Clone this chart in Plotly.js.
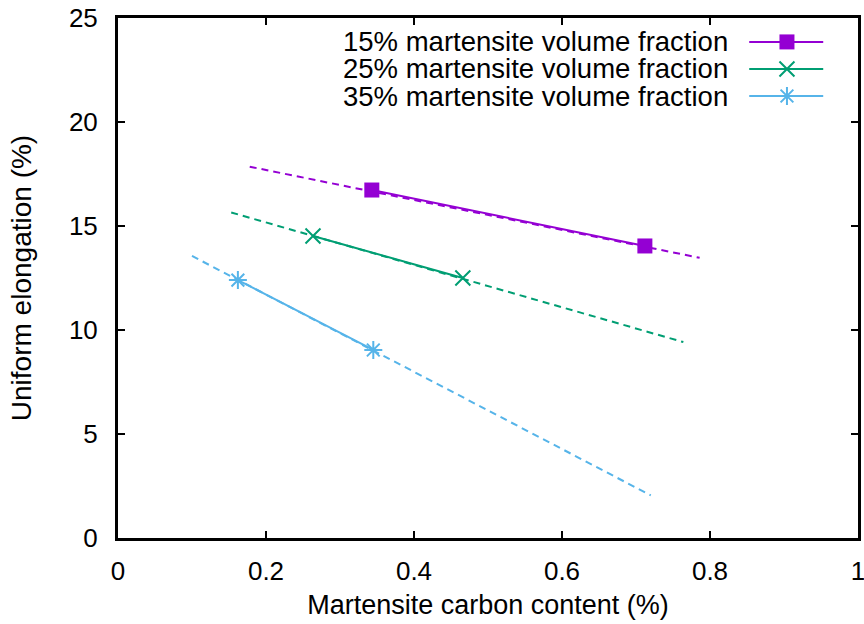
<!DOCTYPE html>
<html>
<head>
<meta charset="utf-8">
<script src="https://cdn.plot.ly/plotly-3.0.1.min.js"></script>
<style>html,body{margin:0;padding:0;background:#fff;}#chart{width:864px;height:624px;}</style>
</head>
<body>
<div id="chart"></div>
<script>
// ---- data ----
const seriesNames = ["15% martensite volume fraction", "25% martensite volume fraction", "35% martensite volume fraction"];
const carbon15 = [0.343, 0.712];
const elong15  = [16.73, 14.04];
const fitX15   = [0.178, 0.786];
const fitY15   = [17.85, 13.47];
const carbon25 = [0.2635, 0.466];
const elong25  = [14.52, 12.50];
const fitX25   = [0.153, 0.764];
const fitY25   = [15.65, 9.42];
const carbon35 = [0.162, 0.345];
const elong35  = [12.40, 9.04];
const fitX35   = [0.100, 0.720];
const fitY35   = [13.56, 2.05];
const xTickVals = [0, 0.2, 0.4, 0.6, 0.8, 1];
const xTickText = ["0", "0.2", "0.4", "0.6", "0.8", "1"];
const yTickVals = [0, 5, 10, 15, 20, 25];
const yTickText = ["0", "5", "10", "15", "20", "25"];

// ---- styles ----
const colors = ["#9400D3", "#009E73", "#56B4E9"];
const symbols = ["square", "x-thin-open", "asterisk-open"];
const font = "Liberation Sans, Arial, Helvetica, sans-serif";
const fs = 26;

const seriesX = [carbon15, carbon25, carbon35];
const seriesY = [elong15, elong25, elong35];
const fitsX = [fitX15, fitX25, fitX35];
const fitsY = [fitY15, fitY25, fitY35];

const traces = [];
for (let i = 0; i < 3; i++) {
  traces.push({
    x: fitsX[i], y: fitsY[i], mode: "lines", type: "scatter",
    line: {color: colors[i], width: 2, dash: "7px,5px"},
    showlegend: false, hoverinfo: "skip"
  });
}
for (let i = 0; i < 3; i++) {
  traces.push({
    x: seriesX[i], y: seriesY[i], mode: "lines+markers", type: "scatter",
    name: seriesNames[i],
    line: {color: colors[i], width: 2},
    marker: {
      symbol: symbols[i], color: colors[i], size: 15,
      line: {color: colors[i], width: i === 0 ? 0 : 2}
    },
    showlegend: false
  });
}

// ---- custom legend (symbol on the right of the text, like the reference) ----
const legendRowY = [0.954, 0.902, 0.850];
const legendKeyX = [0.853, 0.953];
const legendMarkX = 0.904;
const annotations = [];
for (let i = 0; i < 3; i++) {
  traces.push({
    x: legendKeyX, y: [legendRowY[i], legendRowY[i]], xaxis: "x2", yaxis: "y2",
    mode: "lines", line: {color: colors[i], width: 2},
    showlegend: false, hoverinfo: "skip"
  });
  traces.push({
    x: [legendMarkX], y: [legendRowY[i]], xaxis: "x2", yaxis: "y2",
    mode: "markers",
    marker: {symbol: symbols[i], color: colors[i], size: 15,
             line: {color: colors[i], width: i === 0 ? 0 : 2}},
    showlegend: false, hoverinfo: "skip"
  });
  annotations.push({
    xref: "x2", yref: "y2", x: 0.827, y: legendRowY[i],
    text: seriesNames[i], showarrow: false,
    xanchor: "right", yanchor: "middle",
    font: {family: font, size: 27.5, color: "#000"}
  });
}

const layout = {
  width: 864, height: 624,
  margin: {l: 118, r: 6, t: 18, b: 86},
  paper_bgcolor: "#fff", plot_bgcolor: "#fff",
  font: {family: font, size: fs, color: "#000"},
  showlegend: false,
  xaxis: {
    range: [0, 1], tickvals: xTickVals, ticktext: xTickText,
    ticks: "inside", ticklen: 7, tickwidth: 1.5, tickcolor: "#000",
    showline: true, linecolor: "#000", linewidth: 3, mirror: "ticks",
    showgrid: false, zeroline: false,
    ticklabelstandoff: 8, ticklabeloverflow: "allow",
    tickfont: {family: font, size: fs, color: "#000"},
    title: {text: "Martensite carbon content (%)", standoff: 10,
            font: {family: font, size: 27, color: "#000"}}
  },
  yaxis: {
    range: [0, 25], tickvals: yTickVals, ticktext: yTickText,
    ticks: "inside", ticklen: 7, tickwidth: 1.5, tickcolor: "#000",
    showline: true, linecolor: "#000", linewidth: 3, mirror: "ticks",
    showgrid: false, zeroline: false,
    ticklabelstandoff: 12, ticklabeloverflow: "allow",
    tickfont: {family: font, size: fs, color: "#000"},
    title: {text: "Uniform elongation (%)", standoff: 30,
            font: {family: font, size: 28, color: "#000"}}
  },
  xaxis2: {overlaying: "x", range: [0, 1], visible: false, fixedrange: true},
  yaxis2: {overlaying: "y", range: [0, 1], visible: false, fixedrange: true},
  annotations: annotations
};

Plotly.newPlot("chart", traces, layout, {staticPlot: true, displayModeBar: false});
</script>
</body>
</html>
